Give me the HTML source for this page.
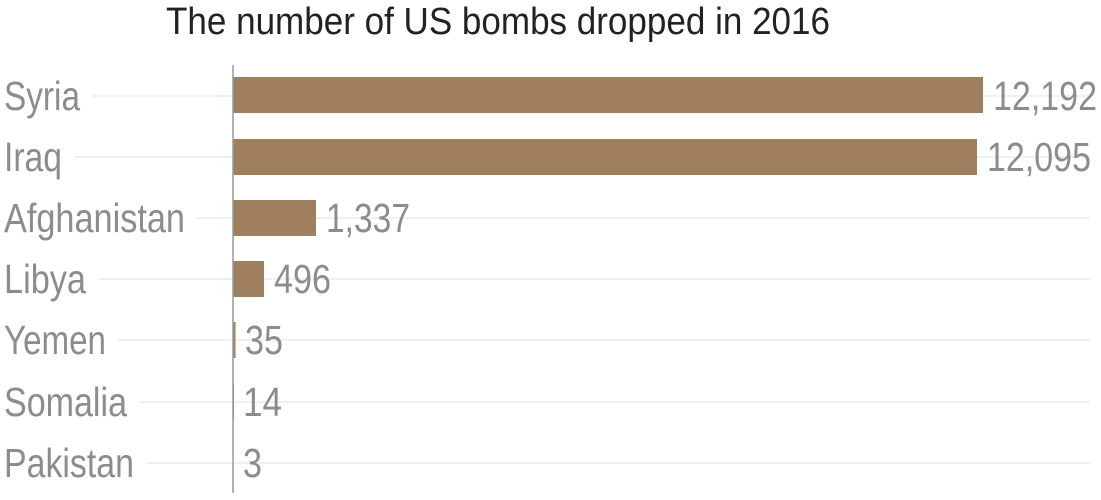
<!DOCTYPE html>
<html><head><meta charset="utf-8"><style>body{margin:0;background:#fff}svg{display:block}</style></head>
<body>
<svg width="1101" height="500" xmlns="http://www.w3.org/2000/svg" font-family="Liberation Sans, sans-serif">
<text x="166" y="34" font-size="38" fill="#222" textLength="664" lengthAdjust="spacingAndGlyphs">The number of US bombs dropped in 2016</text>
<g stroke="#ececec" stroke-width="1.5">
<line x1="92" y1="96" x2="1090" y2="96"/>
<line x1="74" y1="157" x2="1090" y2="157"/>
<line x1="197" y1="218" x2="1090" y2="218"/>
<line x1="98" y1="279" x2="1090" y2="279"/>
<line x1="118" y1="340" x2="1090" y2="340"/>
<line x1="139" y1="402" x2="1090" y2="402"/>
<line x1="146" y1="463" x2="1090" y2="463"/>
</g>
<g fill="#a07f5f">
<rect x="233" y="77" width="750" height="36"/>
<rect x="233" y="139" width="744" height="36"/>
<rect x="233" y="200" width="83" height="36"/>
<rect x="233" y="261" width="31" height="36"/>
<rect x="233" y="322" width="2.5" height="36"/>
<rect x="233" y="384" width="1" height="36"/>
</g>
<line x1="233" y1="65" x2="233" y2="493" stroke="#999" stroke-width="1.5"/>
<g font-size="41" fill="#8c8c8c">
<text x="4" y="110" textLength="76" lengthAdjust="spacingAndGlyphs">Syria</text>
<text x="4" y="171" textLength="58" lengthAdjust="spacingAndGlyphs">Iraq</text>
<text x="4" y="232" textLength="181" lengthAdjust="spacingAndGlyphs">Afghanistan</text>
<text x="4" y="293" textLength="82" lengthAdjust="spacingAndGlyphs">Libya</text>
<text x="4" y="354" textLength="102" lengthAdjust="spacingAndGlyphs">Yemen</text>
<text x="4" y="416" textLength="123" lengthAdjust="spacingAndGlyphs">Somalia</text>
<text x="4" y="477" textLength="130" lengthAdjust="spacingAndGlyphs">Pakistan</text>
<text x="993" y="110" textLength="104" lengthAdjust="spacingAndGlyphs">12,192</text>
<text x="987" y="171" textLength="104" lengthAdjust="spacingAndGlyphs">12,095</text>
<text x="326" y="232" textLength="84" lengthAdjust="spacingAndGlyphs">1,337</text>
<text x="274" y="293" textLength="57" lengthAdjust="spacingAndGlyphs">496</text>
<text x="245" y="354" textLength="38" lengthAdjust="spacingAndGlyphs">35</text>
<text x="243" y="416" textLength="39" lengthAdjust="spacingAndGlyphs">14</text>
<text x="243" y="477" textLength="19" lengthAdjust="spacingAndGlyphs">3</text>
</g>
</svg>
</body></html>
